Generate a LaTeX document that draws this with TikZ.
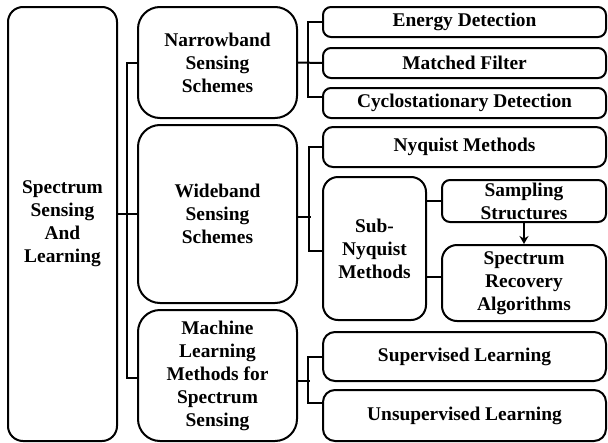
\documentclass[tikz,border=0pt]{standalone}
\usepackage{fontspec}
\setmainfont{Liberation Serif}
\usetikzlibrary{arrows.meta}
\begin{document}
\begin{tikzpicture}[x=1pt,y=-1pt,
  box/.style={draw, line width=2pt, rounded corners=#1, align=center, inner sep=0pt,
    font=\fontsize{19.4}{23}\selectfont\bfseries},
  conn/.style={line width=2pt},
  arr/.style={line width=2pt, -{Stealth[length=8pt,width=9pt]}}]
\useasboundingbox (0,0) rectangle (608,442);
% level 1
\node[box=15pt, minimum width=109pt, minimum height=434pt] (root) at (62.5,224) {Spectrum\\Sensing\\And\\Learning};
% level 2
\node[box=22pt, minimum width=159pt, minimum height=111pt] (nb) at (217.5,62.5) {Narrowband\\Sensing\\Schemes};
\node[box=22pt, minimum width=159pt, minimum height=178pt] (wb) at (217.5,214) {Wideband\\Sensing\\Schemes};
\node[box=22pt, minimum width=159pt, minimum height=131pt] (ml) at (217.5,375.5) {Machine\\Learning\\Methods for\\Spectrum\\Sensing};
% level 3
\node[box=8pt, minimum width=283pt, minimum height=30pt] (en) at (464.5,22) {Energy Detection};
\node[box=8pt, minimum width=283pt, minimum height=30pt] (mf) at (464.5,63) {Matched Filter};
\node[box=8pt, minimum width=283pt, minimum height=30pt] (cy) at (464.5,103) {Cyclostationary Detection};
\node[box=10pt, minimum width=283pt, minimum height=40pt] (ny) at (464.5,147) {Nyquist Methods};
\node[box=15pt, minimum width=103pt, minimum height=143pt] (sn) at (374.5,248.5) {Sub-\\Nyquist\\Methods};
\node[box=8pt, minimum width=164pt, minimum height=42pt] (ss) at (524,201) {Sampling\\Structures};
\node[box=15pt, minimum width=164pt, minimum height=76pt] (sr) at (524,283) {Spectrum\\Recovery\\Algorithms};
\node[box=12pt, minimum width=283pt, minimum height=49pt] (sup) at (464.5,356.5) {Supervised Learning};
\node[box=12pt, minimum width=283pt, minimum height=51pt] (uns) at (464.5,415.5) {Unsupervised Learning};
% trunk
\draw[conn] (nb.west) -- ++(-10,0) |- ([yshift=-2pt]ml.west);
\draw[conn] (root.east |- wb.west) -- (wb.west);
% narrowband branch
\draw[conn] (en.west) -- ++(-14,0) |- ([yshift=6pt]cy.west);
\draw[conn] (nb.east) -- (mf.west);
% wideband branch
\draw[conn] (ny.west) -- ++(-13,0) |- ([yshift=-2.5pt]sn.west);
\draw[conn] ([yshift=-3pt]wb.east) -- ++(13,0);
% sub-nyquist
\draw[conn] (sn.east |- ss.west) -- (ss.west);
\draw[conn] ([yshift=6pt]sn.east |- sr.west) -- ([yshift=6pt]sr.west);
\draw[arr] (ss.south) -- (sr.north);
% ML branch
\draw[conn] (sup.west) -- ++(-14,0) |- ([yshift=12.5pt]uns.west);
\draw[conn] ([yshift=-5pt]ml.east) -- ++(12,0);
\end{tikzpicture}
\end{document}
